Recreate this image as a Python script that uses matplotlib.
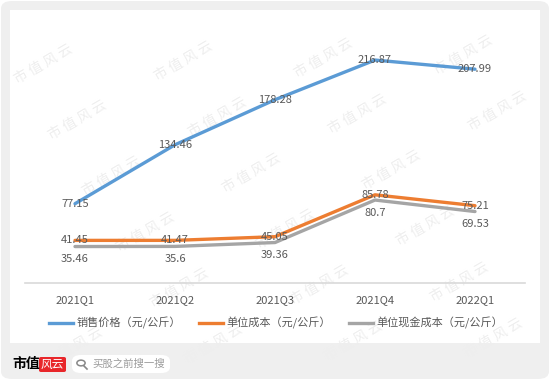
import matplotlib
matplotlib.use("Agg")
import matplotlib.pyplot as plt
from matplotlib.patches import FancyBboxPatch, Rectangle, Circle
from matplotlib.lines import Line2D

plt.rcParams['font.family'] = ['Noto Sans CJK SC', 'DejaVu Sans']

quarters = ["2021Q1", "2021Q2", "2021Q3", "2021Q4", "2022Q1"]
price = [77.15, 134.46, 178.28, 216.87, 207.99]
unit_cost = [41.45, 41.47, 45.05, 85.78, 75.21]
cash_cost = [35.46, 35.6, 39.36, 80.7, 69.53]
series_names = ["销售价格（元/公斤）", "单位成本（元/公斤）", "单位现金成本（元/公斤）"]

blue = "#5b9bd5"
orange = "#ed7d31"
grey = "#a5a5a5"
txt = "#595959"

W, H = 550, 381
fig = plt.figure(figsize=(W / 100, H / 100), dpi=100)
fig.patch.set_facecolor("white")

def fx(px):
    return px / W

def fy(py):
    return 1 - py / H

# outer grey card and white chart panel
fig.patches.append(FancyBboxPatch((fx(1), fy(379)), fx(548), 378 / H,
                                  boxstyle="round,pad=0,rounding_size=0.02",
                                  transform=fig.transFigure, facecolor="#efefef",
                                  edgecolor="none", zorder=-3))
fig.patches.append(Rectangle((fx(10), fy(343)), fx(530), 333 / H,
                             transform=fig.transFigure, facecolor="white",
                             edgecolor="none", zorder=-2))

# watermark
for i in range(-2, 6):
    for j in range(-1, 8):
        x = 10 + i * 140 + j * 34
        y = 8 + j * 56 - i * 3
        if 40 < x < 510 and 24 < y < 358:
            fig.text(fx(x), fy(y), "市 值 风 云", fontsize=10, color="#eeeeee",
                     rotation=30, ha="center", va="center", zorder=-1)

ax = fig.add_axes([fx(25), fy(283), fx(500), 257 / H])
ax.set_facecolor("none")
x = list(range(len(quarters)))

ax.plot(x, price, color=blue, lw=2.4, solid_capstyle="round", zorder=3)
ax.plot(x, unit_cost, color=orange, lw=2.4, solid_capstyle="round", zorder=3)
ax.plot(x, cash_cost, color=grey, lw=2.4, solid_capstyle="round", zorder=2)

for xi, v in zip(x, price):
    ax.text(xi, v, f"{v:g}", ha="center", va="center", fontsize=8, color=txt, zorder=4)
for xi, v in zip(x, unit_cost):
    ax.text(xi, v, f"{v:g}", ha="center", va="center", fontsize=8, color=txt, zorder=4)
for xi, v in zip(x, cash_cost):
    ax.annotate(f"{v:g}", (xi, v), xytext=(0, -9), textcoords="offset points",
                ha="center", va="center", fontsize=8, color=txt, zorder=4)

ax.set_xlim(-0.5, len(quarters) - 0.5)
ax.set_ylim(0, 250)
ax.set_xticks(x)
ax.set_xticklabels(quarters, fontsize=8, color=txt)
ax.tick_params(axis="x", length=0, pad=9)
ax.set_yticks([])
for s in ["top", "right", "left"]:
    ax.spines[s].set_visible(False)
ax.spines["bottom"].set_color("#d9d9d9")
ax.spines["bottom"].set_linewidth(1.2)

handles = [Line2D([], [], color=c, lw=2.4) for c in (blue, orange, grey)]
fig.legend(handles, series_names, loc="center", bbox_to_anchor=(fx(276), fy(323)),
           ncol=3, frameon=False, fontsize=8, labelcolor=txt,
           handlelength=2.2, handletextpad=0.3, columnspacing=1.6)

# bottom brand strip
fig.text(fx(12), fy(364), "市值", fontsize=10, fontweight="bold", color="black",
         ha="left", va="center")
fig.patches.append(FancyBboxPatch((fx(39), fy(372)), fx(27), 15 / H,
                                  boxstyle="round,pad=0,rounding_size=0.004",
                                  transform=fig.transFigure, facecolor="#e8262a",
                                  edgecolor="none", zorder=2))
fig.text(fx(52.5), fy(364.5), "风云", fontsize=8.5, color="white", style="italic",
         ha="center", va="center", zorder=3)
fig.patches.append(FancyBboxPatch((fx(72), fy(373)), fx(98), 18 / H,
                                  boxstyle="round,pad=0,rounding_size=0.016",
                                  transform=fig.transFigure, facecolor="white",
                                  edgecolor="none", zorder=2))
fig.patches.append(Circle((fx(81), fy(363)), 0.0075, transform=fig.transFigure,
                          facecolor="none", edgecolor="#888888", lw=1.1, zorder=3))
fig.lines.append(Line2D([fx(84), fx(87)], [fy(366), fy(369)], transform=fig.transFigure,
                        color="#888888", lw=1.2, zorder=3))
fig.text(fx(92), fy(364), "买股之前搜一搜", fontsize=7.5, color="#9a9a9a",
         ha="left", va="center", zorder=3)

fig.savefig("out.png", dpi=100)
